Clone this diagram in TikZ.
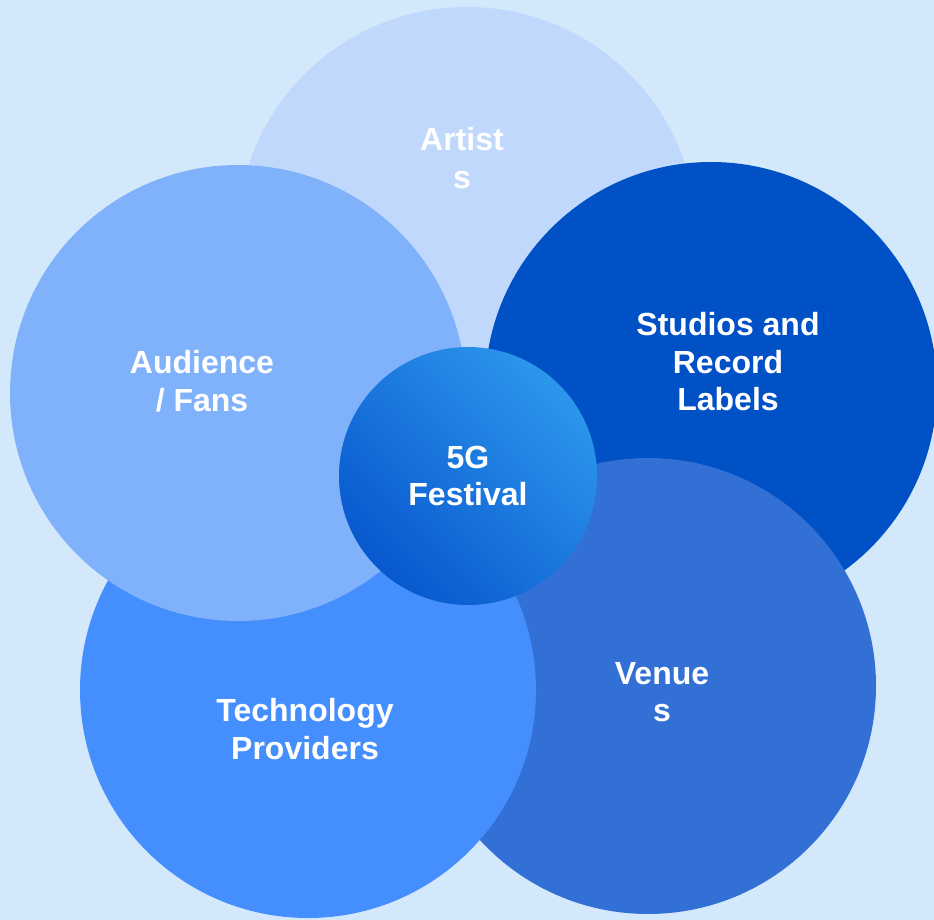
\documentclass[tikz,border=0pt]{standalone}
\usepackage{fontspec}
\setmainfont{Liberation Sans}

\definecolor{bgblue}{RGB}{212,232,252}
\definecolor{artistblue}{RGB}{192,216,252}
\definecolor{fanblue}{RGB}{128,178,252}
\definecolor{studioblue}{RGB}{0,81,198}
\definecolor{venueblue}{RGB}{51,112,213}
\definecolor{techblue}{RGB}{69,142,253}
\definecolor{hubdark}{RGB}{8,88,206}
\definecolor{hublight}{RGB}{44,150,236}

\tikzset{
  disc/.style={circle,inner sep=0pt,minimum size=#1},
  caption/.style={text=white,align=center,font=\fontsize{32}{37.5}\selectfont\bfseries}
}

\begin{document}
\begin{tikzpicture}[x=1pt,y=-1pt]
 \fill[bgblue] (0,0) rectangle (934,920);
 \useasboundingbox (0,0) rectangle (934,920);
 % outer circles, back to front
 \node[disc=460,fill=artistblue] (artists) at (467,237) {};
 \node[disc=452,fill=studioblue] (studios) at (711,388) {};
 \node[disc=456,fill=venueblue] (venues) at (648,686) {};
 \node[disc=456,fill=techblue] (tech) at (308,690) {};
 \node[disc=456,fill=fanblue] (fans) at (238,393) {};
 % hub
 \node[disc=258,top color=hublight,bottom color=hubdark,shading angle=-45] (hub) at (468,476) {};
 % labels
 \node[caption] (artists-text) at (462,158) {Artist\\s};
 \node[caption] (studios-text) at (728,362) {Studios and\\Record\\Labels};
 \node[caption] (fans-text) at (202,381) {Audience\\/ Fans};
 \node[caption] (hub-text) at (468,476) {5G\\Festival};
 \node[caption] (tech-text) at (305,729) {Technology\\Providers};
 \node[caption] (venues-text) at (662,692) {Venue\\s};
\end{tikzpicture}
\end{document}
